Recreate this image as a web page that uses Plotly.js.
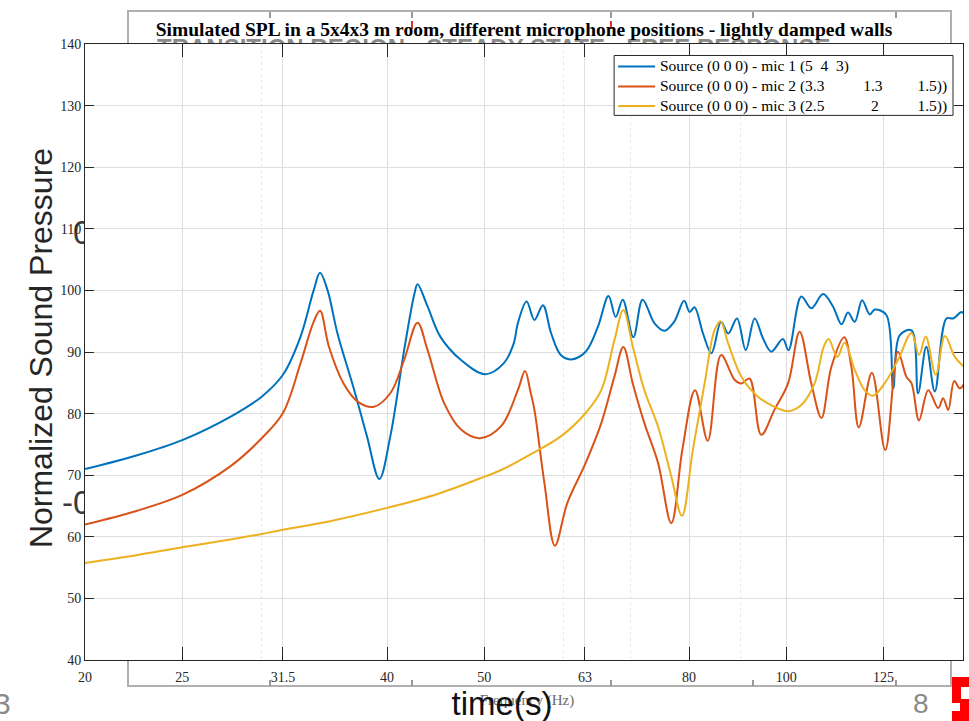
<!DOCTYPE html>
<html>
<head>
<meta charset="utf-8">
<script src="https://cdn.plot.ly/plotly-3.0.1.min.js"></script>
<style>
  body { margin:0; background:#fff; }
  #wrap { position:relative; width:969px; height:721px; overflow:hidden; background:#fff; }
  #ghost, #chart { position:absolute; left:0; top:0; width:969px; height:721px; }
  .g { position:absolute; white-space:nowrap; }
</style>
</head>
<body>
<div id="wrap">
  <div id="ghost">
    <div class="g" style="left:127px;top:10px;width:825px;height:677px;border:2px solid #b0b0b0;box-sizing:border-box;"></div>
    <div class="g" style="left:157px;top:36px;font:bold 24px/24px 'Liberation Sans';color:#8a8a8a;">TRANSITION REGION - STEADY STATE - FREE RESPONSE</div>
    <div class="g" style="left:73px;top:213px;font:33px/40px 'Liberation Sans';color:#3a3a3a;">0</div>
    <div class="g" style="left:62px;top:483px;font:33px/40px 'Liberation Sans';color:#3a3a3a;">-0</div>
    <div class="g" style="left:41px;top:348px;font:32px/34px 'Liberation Sans';color:#262626;transform:translate(-50%,-50%) rotate(-90deg);">Normalized Sound Pressure</div>
    <div class="g" style="left:527px;top:690px;font:15px/20px 'Liberation Serif';color:#6a6a6a;transform:translateX(-50%);">Frequency (Hz)</div>
    <div class="g" style="left:502px;top:684px;font:33px/40px 'Liberation Sans';color:#111;transform:translateX(-50%);">time(s)</div>
    <div class="g" style="left:-6px;top:684px;font:30px/40px 'Liberation Sans';color:#8a8a8a;">3</div>
    <div class="g" style="left:913px;top:684px;font:28px/40px 'Liberation Sans';color:#8a8a8a;">8</div>
    <div class="g" style="left:952px;top:677px;width:17px;height:44px;background:#f00;"></div>
    <div class="g" style="left:961px;top:687px;width:8px;height:12px;background:#fff;"></div>
    <div class="g" style="left:952px;top:703px;width:8px;height:8px;background:#fff;"></div>
  </div>
  <div id="chart"></div>
</div>
<script>
// ---- data ----
const xTickVals = [20, 25, 31.5, 40, 50, 63, 80, 100, 125];
const xTickText = ['20', '25', '31.5', '40', '50', '63', '80', '100', '125'];
const xMinorVals = [30, 60, 70, 90];
const ghostTicks = [270, 412, 611, 753, 896];

const nb = function (n) { return '\u00a0'.repeat(n); };
const seriesNames = [
  'Source (0 0 0) - mic 1 (5' + nb(2) + '4' + nb(2) + '3)',
  'Source (0 0 0) - mic 2 (3.3' + nb(10) + '1.3' + nb(9) + '1.5))',
  'Source (0 0 0) - mic 3 (2.5' + nb(12) + '2' + nb(10) + '1.5))'
];
const seriesColors = ['#0072BD', '#D95319', '#EDB120'];

const freqMic1 = [20, 22.5, 25, 28, 30, 31.5, 32.8, 33.8, 34.3, 34.9, 35.7, 37.1, 38.2, 39.3, 40.3, 41.6, 42.6, 42.9, 43.9, 45.2, 47.4, 50.1, 52.3, 53.5, 54.0, 55.1, 56.1, 57.2, 58.3, 59.6, 61.0, 63.1, 64.9, 66.5, 67.6, 68.7, 70.4, 71.9, 73.9, 75.6, 77.3, 79.1, 80.1, 81.0, 82.6, 84.2, 86.1, 87.5, 89.3, 91.1, 93.0, 94.8, 96.6, 99.2, 100.5, 103.5, 105.9, 108.8, 111.3, 113.5, 115.2, 117.0, 119.0, 121.1, 122.5, 125.8, 127.8, 129.7, 133.3, 135.3, 137.9, 140.6, 144.4, 146.7, 149.5, 150.6];
const splMic1 = [71.0, 73.2, 75.7, 79.6, 82.75, 86.3, 92.5, 100.0, 102.85, 100.0, 93.0, 83.8, 76.3, 69.4, 76.3, 90.3, 99.5, 101.0, 97.4, 92.5, 88.7, 86.4, 88.2, 91.4, 94.65, 98.2, 95.2, 97.6, 93.0, 89.5, 88.8, 90.05, 94.1, 99.1, 95.7, 98.5, 92.4, 98.5, 94.65, 93.45, 94.9, 98.3, 96.5, 97.25, 93.0, 89.8, 94.9, 93.0, 95.45, 90.3, 95.45, 92.2, 90.05, 92.1, 90.3, 99.0, 97.1, 99.4, 97.4, 94.5, 96.4, 94.9, 98.4, 96.1, 96.9, 96.0, 84.1, 92.7, 93.5, 83.3, 90.85, 83.6, 95.45, 95.45, 96.5, 96.0];

const freqMic2 = [20, 22.5, 25, 28, 30, 31.5, 32.8, 33.8, 34.3, 35.0, 36.2, 37.4, 38.8, 40.3, 41.6, 42.9, 43.9, 45.6, 47.4, 49.5, 52.0, 54.0, 54.9, 55.6, 56.1, 57.4, 58.8, 60.5, 63.1, 65.4, 67.4, 68.8, 70.3, 72.2, 74.5, 76.8, 78.8, 81.1, 83.5, 86.1, 88.8, 90.2, 91.9, 94.4, 97.3, 100.4, 103.1, 105.9, 108.4, 110.9, 114.2, 116.1, 118.1, 121.7, 125.5, 129.2, 131.7, 133.3, 135.6, 138.5, 141.7, 143.3, 145.0, 147.0, 148.9, 150.6];
const splMic2 = [62.0, 64.2, 66.8, 71.6, 76.0, 80.1, 88.2, 94.9, 96.7, 90.9, 84.9, 81.95, 81.1, 83.3, 88.7, 94.75, 90.3, 81.7, 77.4, 76.0, 78.0, 83.8, 86.9, 83.5, 80.6, 68.7, 58.55, 65.5, 72.0, 78.45, 86.0, 90.8, 84.9, 78.45, 72.0, 62.2, 74.3, 83.8, 75.6, 89.5, 85.5, 84.9, 85.7, 76.55, 80.6, 84.9, 93.3, 84.9, 79.3, 87.6, 92.4, 87.6, 77.75, 86.65, 74.1, 90.05, 86.0, 84.9, 78.9, 83.8, 80.9, 82.5, 80.6, 85.3, 84.1, 85.0];

const freqMic3 = [20, 22.5, 25, 28, 30, 31.5, 35, 40, 45, 50.1, 51.9, 55.6, 59.6, 63.1, 65.4, 67.4, 68.8, 70.3, 72.2, 74.5, 76.8, 78.7, 80.7, 82.9, 84.8, 86.0, 87.5, 90.2, 93.7, 97.3, 100.4, 103.5, 106.7, 109.0, 110.2, 112.4, 114.3, 117.0, 119.7, 122.0, 125.3, 129.2, 133.3, 135.6, 137.7, 140.9, 143.9, 147.2, 150.6];
const splMic3 = [55.75, 57.0, 58.3, 59.6, 60.45, 61.15, 62.5, 64.7, 67.0, 69.8, 70.8, 73.4, 76.3, 80.1, 83.8, 91.9, 96.8, 90.9, 83.8, 77.9, 69.8, 63.4, 74.1, 84.9, 93.5, 95.0, 91.4, 86.0, 82.75, 81.1, 80.4, 81.4, 84.9, 90.9, 92.1, 89.2, 91.5, 87.1, 83.8, 82.9, 84.9, 88.7, 93.1, 89.5, 92.5, 86.3, 92.6, 89.2, 87.5];

// ---- ghost tick marks of the background frame ----
const ghost = document.getElementById('ghost');
ghostTicks.forEach(function (x) {
  [[12, 6], [680, 6]].forEach(function (p) {
    const d = document.createElement('div');
    d.className = 'g';
    d.style.cssText = 'left:' + (x - 1) + 'px;top:' + p[0] + 'px;width:2px;height:' + p[1] + 'px;background:#9a9a9a;';
    ghost.appendChild(d);
  });
});
[412, 611].forEach(function (x) {
  const d = document.createElement('div');
  d.className = 'g';
  d.style.cssText = 'left:' + (x - 1) + 'px;top:21px;width:2px;height:8px;background:#e03030;';
  ghost.appendChild(d);
});

const serif = 'Liberation Serif, Times New Roman, serif';
const xs = [freqMic1, freqMic2, freqMic3];
const ys = [splMic1, splMic2, splMic3];
const traces = xs.map(function (x, i) {
  return {
    x: x, y: ys[i], type: 'scatter', mode: 'lines', name: seriesNames[i], showlegend: false,
    line: { color: seriesColors[i], width: 2, shape: 'spline', smoothing: 1 }
  };
});

// plot area in pixels (for placing the legend box)
const PL = 84.7, PR = 963, PT = 43.5, PB = 660.5;
const px = function (v) { return (v - PL) / (PR - PL); };
const py = function (v) { return (PB - v) / (PB - PT); };

const shapes = [{
  type: 'rect', xref: 'paper', yref: 'paper', layer: 'above',
  x0: px(614), x1: px(953), y0: py(115), y1: py(55),
  fillcolor: '#ffffff', line: { color: '#262626', width: 1 }
}];
const annotations = [];
const rowY = [66, 86, 105.5];
seriesNames.forEach(function (name, i) {
  shapes.push({
    type: 'line', xref: 'paper', yref: 'paper', layer: 'above',
    x0: px(618), x1: px(655), y0: py(rowY[i]), y1: py(rowY[i]),
    line: { color: seriesColors[i], width: 2 }
  });
  annotations.push({
    xref: 'paper', yref: 'paper', x: px(658), y: py(rowY[i]), xanchor: 'left', yanchor: 'middle',
    text: name, showarrow: false, font: { family: serif, size: 15.5, color: '#000' }
  });
});

const axisCommon = {
  ticks: 'inside', tickcolor: '#262626', showline: true, linecolor: '#262626', linewidth: 1,
  mirror: 'allticks', showgrid: true, gridcolor: '#dedede', gridwidth: 1, zeroline: false,
  tickfont: { family: serif, size: 14, color: '#262626' }
};

const layout = {
  width: 969, height: 721,
  margin: { l: PL, r: 969 - PR, t: PT, b: 721 - PB, pad: 0 },
  paper_bgcolor: 'rgba(0,0,0,0)', plot_bgcolor: '#ffffff',
  title: {
    text: '<b>Simulated SPL in a 5x4x3 m room, different microphone positions - lightly damped walls</b>',
    font: { family: serif, size: 19.5, color: '#000' },
    x: 0.5, xref: 'paper', xanchor: 'center', y: 1 - 29 / 721, yref: 'container', yanchor: 'middle'
  },
  xaxis: Object.assign({}, axisCommon, {
    type: 'log', range: [Math.log10(20), Math.log10(150)],
    tickmode: 'array', tickvals: xTickVals, ticktext: xTickText, ticklen: 13,
    ticklabelstandoff: 4,
    minor: { tickmode: 'array', tickvals: xMinorVals, showgrid: true, gridcolor: '#e8e8e8', griddash: 'dot', ticks: '' }
  }),
  yaxis: Object.assign({}, axisCommon, {
    range: [40, 140], tickmode: 'linear', tick0: 40, dtick: 10, ticklen: 9
  }),
  showlegend: false,
  shapes: shapes,
  annotations: annotations
};

Plotly.newPlot('chart', traces, layout, { displayModeBar: false, staticPlot: true });
</script>
</body>
</html>
